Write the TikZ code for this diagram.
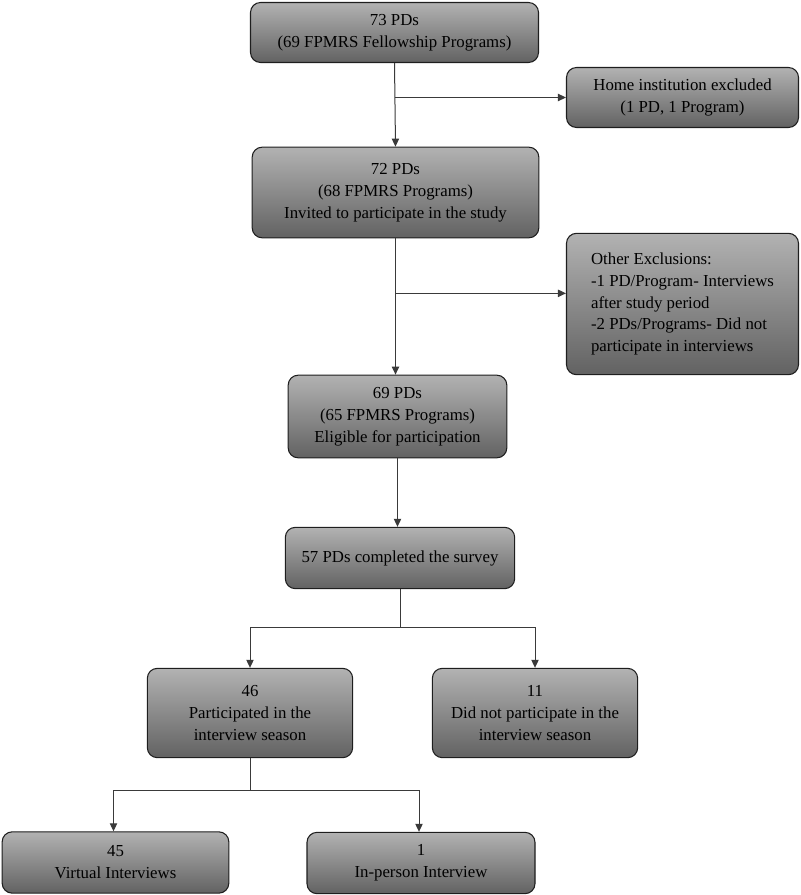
\documentclass[tikz,border=0pt]{standalone}
\usepackage{fontspec}
\setmainfont{Liberation Serif}
\usepackage{tikz}
\usetikzlibrary{arrows.meta,positioning,calc}
\definecolor{boxtop}{HTML}{B2B2B2}
\definecolor{boxbot}{HTML}{626262}
\definecolor{boxline}{HTML}{1E1E1E}
\definecolor{flgray}{HTML}{3A3A3A}

\begin{document}
\begin{tikzpicture}[
    x=0.75pt,y=-0.75pt,
    box/.style  = {rectangle,rounded corners=7.5pt,draw=boxline,line width=0.8pt,
                   top color=boxtop,bottom color=boxbot,align=center,
                   font=\fontsize{12.6}{16.4}\selectfont,inner sep=2pt},
    excl/.style = {box,align=left},
    fl/.style   = {-{Triangle[length=6pt,width=5.5pt]},flgray,line width=0.75pt},
    ln/.style   = {flgray,line width=0.75pt},
  ]
  \useasboundingbox (0,0) rectangle (800,895);

  % ── Sélection des programmes ────────────────────────────────────────────
  \node[box,minimum width=216pt,minimum height=45pt] (pd73) at (394.5,32.5)
       {73 PDs\\(69 FPMRS Fellowship Programs)};
  \node[box,minimum width=174pt,minimum height=45pt] (home) at (682.5,97.5)
       {Home institution excluded\\(1 PD, 1 Program)};
  \node[box,minimum width=215pt,minimum height=68pt] (pd72) at (395.5,192.5)
       {72 PDs\\(68 FPMRS Programs)\\Invited to participate in the study};
  \node[excl,minimum width=174pt,minimum height=106pt] (other) at (682.5,304)
       {Other Exclusions:\\-1 PD/Program- Interviews\\after study period\\
        -2 PDs/Programs- Did not\\participate in interviews};
  \node[box,minimum width=164pt,minimum height=62pt] (pd69) at (397.5,416.5)
       {69 PDs\\(65 FPMRS Programs)\\Eligible for participation};
  \node[box,minimum width=172pt,minimum height=46pt] (pd57) at (400,558)
       {57 PDs completed the survey};

  % ── Saison d'entretiens ─────────────────────────────────────────────────
  \node[box,minimum width=154pt,minimum height=67pt] (part) at (250,713)
       {46\\Participated in the\\interview season};
  \node[box,minimum width=154pt,minimum height=67pt] (nopart) at (535,713)
       {11\\Did not participate in the\\interview season};
  \node[box,minimum width=170pt,minimum height=46pt] (virt) at (115.5,862.5)
       {45\\Virtual Interviews};
  \node[box,minimum width=171pt,minimum height=46pt] (inpers) at (421,863)
       {1\\In-person Interview};

  % ── Flux ────────────────────────────────────────────────────────────────
  \draw[fl] (pd73.south) -- (pd72.north);
  \draw[fl] (pd73.south |- home.west) -- (home.west);
  \coordinate (otherin) at ([yshift=8pt]other.west);
  \draw[fl] (pd72.south) -- (pd72.south |- pd69.north);
  \draw[fl] (pd72.south |- otherin) -- (otherin);
  \draw[fl] (pd69.south) -- (pd69.south |- pd57.north);

  \coordinate (split1) at ($(pd57.south)+(0,38)$);
  \draw[ln] (pd57.south) -- (split1);
  \draw[fl] (split1) -| (part.north);
  \draw[fl] (split1) -| (nopart.north);

  \coordinate (split2) at ($(part.south)+(0,32)$);
  \draw[ln] (part.south) -- (split2);
  \draw[fl] (split2) -| ([xshift=-1.5pt]virt.north);
  \draw[fl] (split2) -| ([xshift=-1.5pt]inpers.north);

\end{tikzpicture}
\end{document}
